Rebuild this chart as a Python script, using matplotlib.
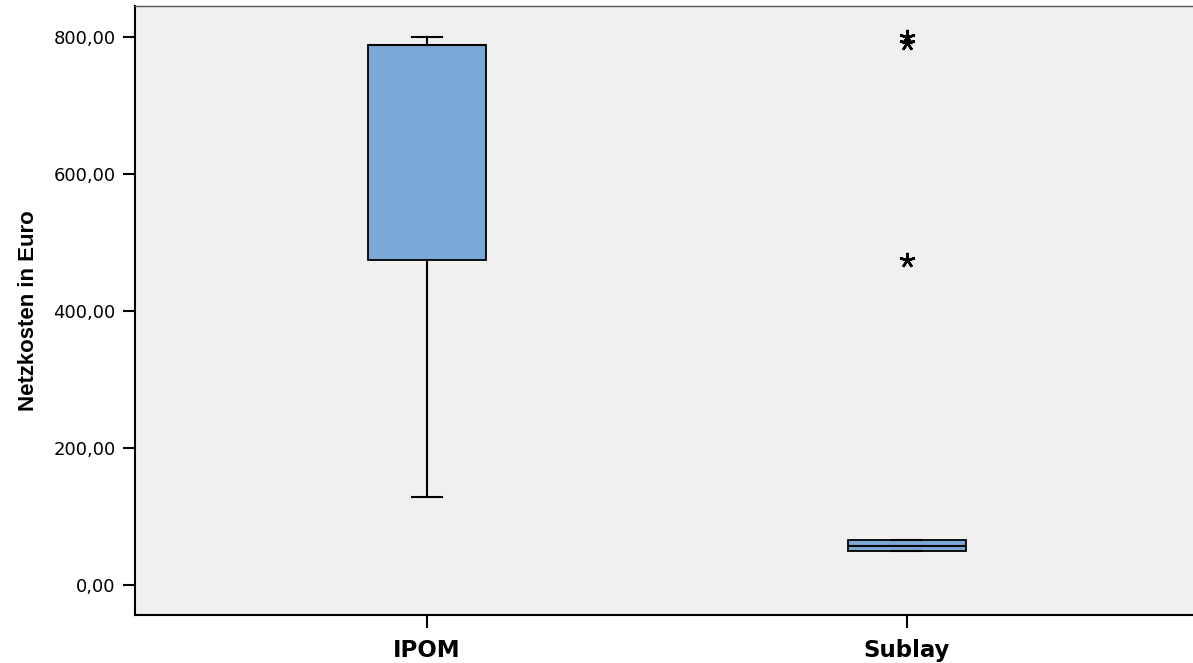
import matplotlib.pyplot as plt

# summary values per group (Netzkosten in Euro)
groups = ["IPOM", "Sublay"]
whisker_low = [128.0, 50.0]
quartile_1 = [474.0, 50.0]
medians = [789.0, 57.0]
quartile_3 = [789.0, 65.0]
whisker_high = [800.0, 65.0]
outliers = [[], [800.0, 791.0, 474.0]]

yticks = [0, 200, 400, 600, 800]
ytick_labels = ["0,00", "200,00", "400,00", "600,00", "800,00"]

stats = []
for i, name in enumerate(groups):
    stats.append({
        "label": name,
        "whislo": whisker_low[i],
        "q1": quartile_1[i],
        "med": medians[i],
        "q3": quartile_3[i],
        "whishi": whisker_high[i],
        "fliers": outliers[i],
    })

fig = plt.figure(figsize=(11.93, 6.63), dpi=100)
ax = fig.add_axes([135 / 1193, 48 / 663, 1058 / 1193, 609 / 663])
ax.set_facecolor("#f0f0f0")

ax.bxp(
    stats,
    positions=[1, 2],
    widths=0.245,
    patch_artist=True,
    boxprops=dict(facecolor="#7ba8d6", edgecolor="black", linewidth=1.3),
    medianprops=dict(color="black", linewidth=1.5),
    whiskerprops=dict(color="black", linewidth=1.5),
    capprops=dict(color="black", linewidth=1.5),
    capwidths=0.0625,
    flierprops=dict(marker=(5, 2, 0), markersize=11, markeredgecolor="black",
                    markeredgewidth=1.8, linestyle="none"),
)

ax.set_xlim(0.392, 2.596)
ax.set_ylim(-43.8, 845.3)

ax.set_yticks(yticks)
ax.set_yticklabels(ytick_labels, fontsize=13, family="DejaVu Sans")
ax.set_xticks([1, 2])
ax.set_xticklabels(groups, fontsize=16.5, fontweight="bold", family="DejaVu Sans")
ax.tick_params(axis="both", length=9, width=1.5, direction="out", pad=5)
ax.tick_params(axis="x", pad=8)

ax.set_ylabel("Netzkosten in Euro", fontsize=16, fontweight="bold",
              family="Liberation Sans", labelpad=10)

for side in ["left", "bottom"]:
    ax.spines[side].set_linewidth(1.5)
    ax.spines[side].set_color("black")
ax.spines["top"].set_linewidth(1.0)
ax.spines["top"].set_color("#555555")
ax.spines["right"].set_visible(False)

fig.savefig("out.png", dpi=100)
